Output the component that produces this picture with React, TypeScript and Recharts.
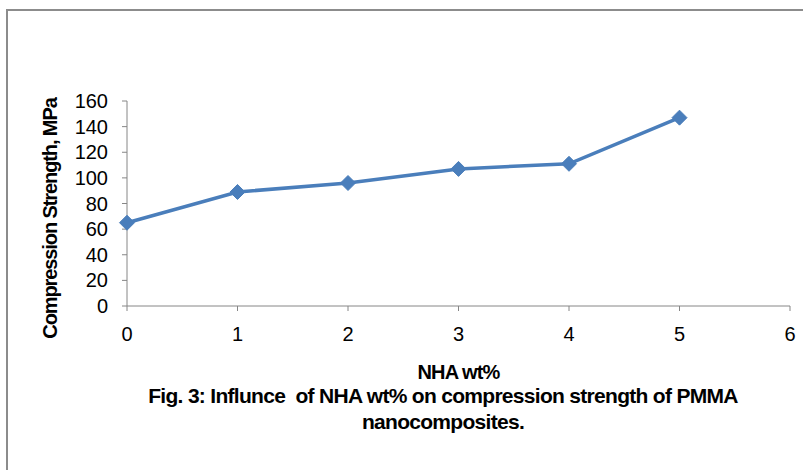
import { LineChart, Line, XAxis, YAxis, Label } from "recharts";

const nhaWt = [0, 1, 2, 3, 4, 5];
const strength = [65, 89, 96, 107, 111, 147];
const xTicks = [0, 1, 2, 3, 4, 5, 6];
const yTicks = [0, 20, 40, 60, 80, 100, 120, 140, 160];

const data = nhaWt.map((x, i) => ({ x, y: strength[i] }));

const BLUE = "#4A7EBB";
const AXIS = "#868686";
const FONT = "'Liberation Sans', Arial, sans-serif";

const Diamond = ({ cx, cy }: any) => {
  if (cx == null || cy == null) return null;
  const r = 7.5;
  return (
    <path
      d={`M${cx},${cy - r}L${cx + r},${cy}L${cx},${cy + r}L${cx - r},${cy}Z`}
      fill={BLUE}
      stroke={BLUE}
    />
  );
};

// rotated y title, sits a bit below the plot centre like the original
const YTitle = ({ viewBox }: any) => {
  const x = viewBox.x + 43;
  const y = viewBox.y + viewBox.height / 2 + 15;
  return (
    <text
      x={x}
      y={y}
      transform={`rotate(-90, ${x}, ${y})`}
      textAnchor="middle"
      dominantBaseline="central"
      style={{ fontSize: 20, fontWeight: 700, fill: "#000", fontFamily: FONT, letterSpacing: -1.1 }}
    >
      Compression Strength, MPa
    </text>
  );
};

export default function App() {
  return (
    <div style={{ position: "absolute", left: 0, top: 0, width: 803, height: 470, background: "#fff", fontFamily: FONT }}>
      {/* frame of the figure */}
      <div
        style={{
          position: "absolute",
          left: 6,
          top: 9,
          width: 800,
          height: 470,
          borderTop: "2px solid #8c8c8c",
          borderLeft: "2px solid #8c8c8c",
        }}
      />
      <LineChart
        width={803}
        height={470}
        data={data}
        margin={{ top: 101, right: 13, bottom: 88, left: 7 }}
        style={{ position: "absolute", left: 0, top: 0 }}
      >
        <XAxis
          dataKey="x"
          type="number"
          domain={[0, 6]}
          ticks={xTicks}
          interval={0}
          stroke={AXIS}
          tickSize={5}
          tickMargin={16}
          height={76}
          tick={{ fontSize: 20, fill: "#000", fontFamily: FONT }}
        >
          <Label
            value="NHA wt%"
            position="insideBottom"
            offset={3}
            style={{ fontSize: 20, fontWeight: 700, fill: "#000", fontFamily: FONT, letterSpacing: -0.9 }}
          />
        </XAxis>
        <YAxis
          domain={[0, 160]}
          ticks={yTicks}
          interval={0}
          width={120}
          stroke={AXIS}
          tickSize={5}
          tickMargin={14}
          tick={{ fontSize: 20, fill: "#000", fontFamily: FONT }}
        >
          <Label content={<YTitle />} />
        </YAxis>
        <Line
          dataKey="y"
          stroke={BLUE}
          strokeWidth={3.5}
          dot={<Diamond />}
          activeDot={false}
          isAnimationActive={false}
        />
      </LineChart>
      <div
        style={{
          position: "absolute",
          left: 0,
          width: 886,
          top: 383,
          textAlign: "center",
          fontWeight: 700,
          fontSize: 21,
          lineHeight: "26px",
          letterSpacing: -0.7,
          color: "#000",
        }}
      >
        Fig. 3: Influnce&nbsp; of NHA wt% on compression strength of PMMA
        <br />
        nanocomposites.
      </div>
    </div>
  );
}
